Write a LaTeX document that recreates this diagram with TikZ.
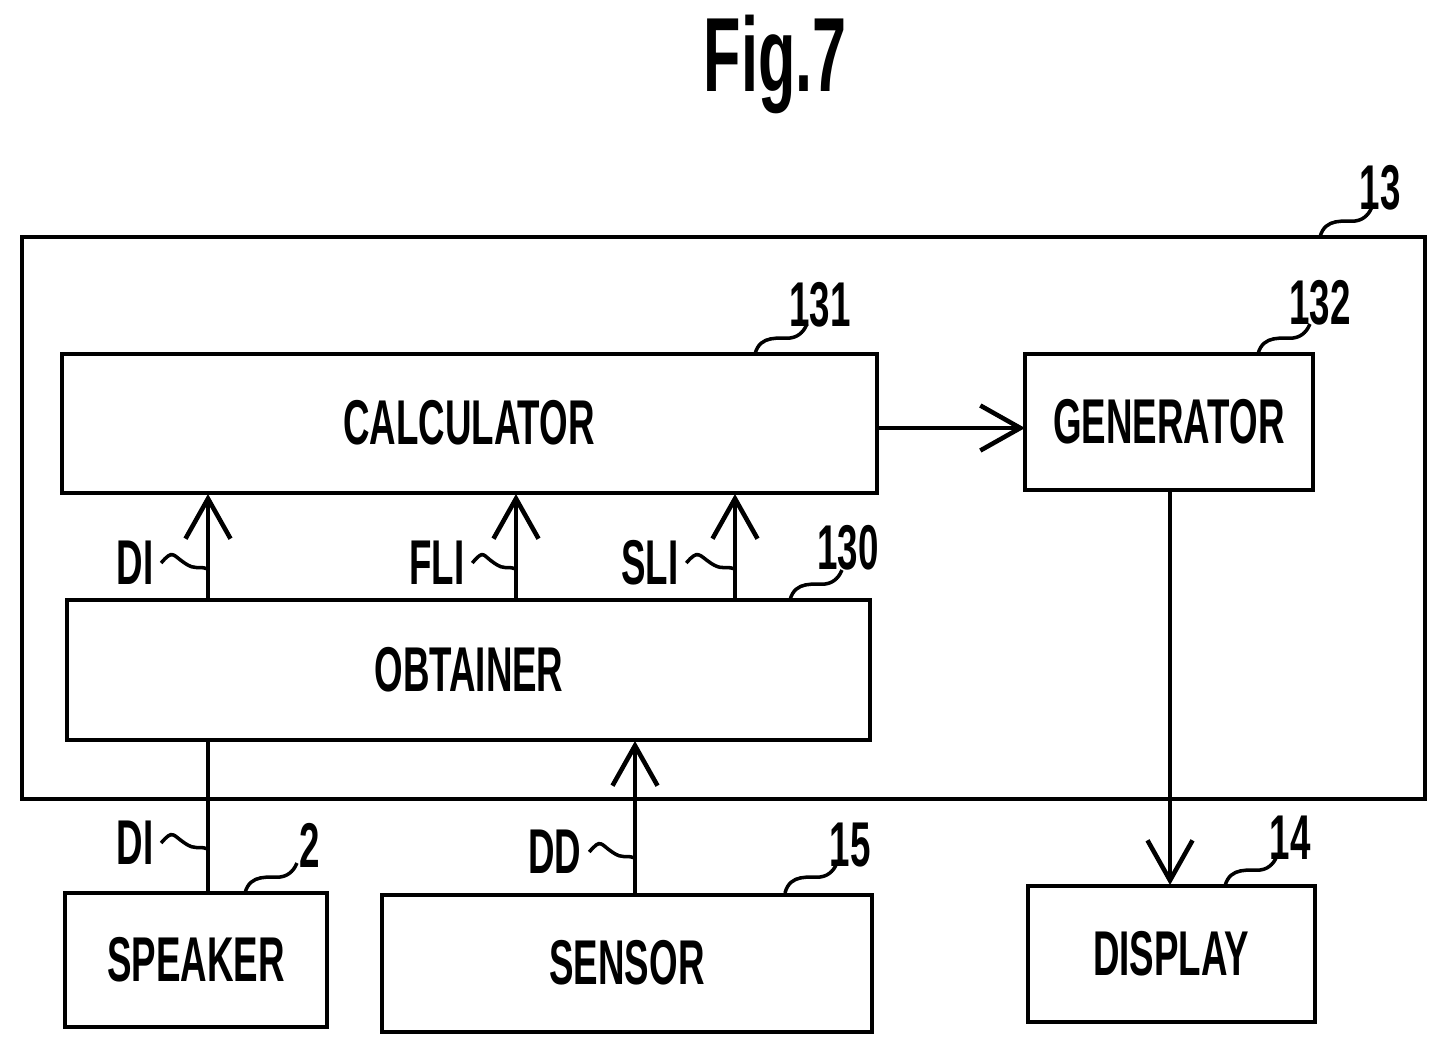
\documentclass[tikz,border=0pt]{standalone}
\usepackage{fontspec}
\setmainfont{Liberation Sans}
\usetikzlibrary{arrows.meta,calc}
\newcommand{\nt}[1]{\scalebox{0.58}[1]{#1}}
\begin{document}
\begin{tikzpicture}[x=0.01cm,y=-0.01cm,
  box/.style={draw,line width=1.3pt},
  lab/.style={font=\fontsize{18}{18}\selectfont\bfseries,inner sep=0pt},
  conn/.style={line width=1.3pt},
  arr/.style={conn,-{Straight Barb[length=0.4cm,width=0.45cm,line width=1.3pt]}},
  sq/.style={line width=1pt}]
\useasboundingbox (0,0) rectangle (1448,1057);
\node[lab,font=\fontsize{30}{30}\selectfont\bfseries] (title) at (775,64) {\nt{Fig.7}};
\draw[box] (22,237) rectangle (1425,799);
\draw[box] (62,354) rectangle (877,493);
\node[lab] (calc) at (469,423) {\nt{CALCULATOR}};
\draw[box] (1025,354) rectangle (1313,490);
\node[lab] (gen) at (1169,422) {\nt{GENERATOR}};
\draw[box] (67,600) rectangle (870,740);
\node[lab] (obt) at (469,670) {\nt{OBTAINER}};
\draw[box] (65,893) rectangle (327,1027);
\node[lab] (spk) at (196,960) {\nt{SPEAKER}};
\draw[box] (382,895) rectangle (872,1032);
\node[lab] (sen) at (627,963) {\nt{SENSOR}};
\draw[box] (1028,886) rectangle (1315,1022);
\node[lab] (dis) at (1171,954) {\nt{DISPLAY}};
\coordinate (a1) at (877,428); \coordinate (a2) at (1025,428);
\draw[arr] (a1) -- (a2);
\foreach \x in {208,516,735}{\coordinate (o\x) at (\x,600); \coordinate (t\x) at (\x,494); \draw[arr] (o\x) -- (t\x);}
\coordinate (s1) at (208,893); \coordinate (s2) at (208,740);
\draw[conn] (s1) -- (s2);
\coordinate (d1) at (635,895); \coordinate (d2) at (635,741);
\draw[arr] (d1) -- (d2);
\coordinate (g1) at (1170,490); \coordinate (g2) at (1170,885);
\draw[arr] (g1) -- (g2);
% signal labels
\foreach \t/\x/\y/\lx in {DI/135/563/208, FLI/437/563/516, SLI/650/563/735, DI/135/843/208, DD/555/852/635}{
  \node[lab] (n\t\y) at (\x,\y) {\nt{\t}};
  \draw[sq] ([xshift=2pt]n\t\y.east) .. controls +(12,-14) and +(-12,-8) .. ($([xshift=2pt]n\t\y.east)!0.5!(\lx,\y)$) .. controls +(12,8) and +(-12,-4) .. (\lx,\y+6);
}
% reference numbers
\foreach \t/\x/\y/\bx/\by in {13/1380/188/1320/237, 131/820/305/755/354, 132/1320/303/1258/354, 130/848/548/790/600, 2/310/845/245/893, 15/850/845/785/893, 14/1290/838/1225/886}{
  \node[lab] (r\t) at (\x,\y) {\nt{\t}};
  \draw[sq] (\bx,\by) .. controls (\bx+5,\by-20) and (\bx+25,\by-15) .. (\bx+35,\by-16) .. controls (\bx+45,\by-17) and (\bx+50,\by-25) .. (\bx+52,\by-30);
}
\end{tikzpicture}
\end{document}
